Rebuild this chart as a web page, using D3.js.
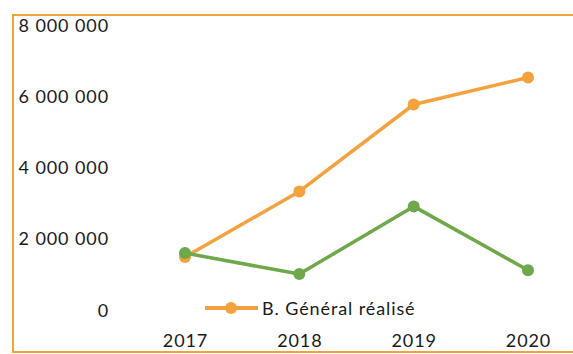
<!DOCTYPE html>
<html><head><meta charset="utf-8">
<script src="https://cdn.jsdelivr.net/npm/d3@7"></script>
<style>body{margin:0;background:#fff}svg{display:block}</style>
</head><body>
<svg id="c" width="573" height="354"></svg>
<script>
const years = ["2017","2018","2019","2020"];
const realise = [1460000, 3300000, 5740000, 6500000];
const autre = [1570000, 980000, 2880000, 1090000];
const yTicks = [0, 2000000, 4000000, 6000000, 8000000];
const yTickLabels = ["0","2 000 000","4 000 000","6 000 000","8 000 000"];
const legendLabel = "B. Général réalisé";

const svg = d3.select("#c");
const font = "Lato, 'Open Sans', sans-serif";
const orange = "#f4a23e", green = "#6ea84a";

svg.append("rect").attr("x",13).attr("y",15).attr("width",575).attr("height",337)
  .attr("fill","none").attr("stroke","#efa43a").attr("stroke-width",2);

const x = d3.scalePoint().domain(years).range([185, 528]);
const y = d3.scaleLinear().domain([0, 8000000]).range([309, 24]);

const ya = svg.append("g").attr("transform","translate(109,0)")
  .call(d3.axisLeft(y).tickValues(yTicks).tickFormat((d,i)=>yTickLabels[i]).tickSize(0).tickPadding(0));
ya.select(".domain").remove();
ya.selectAll("text").attr("font-family",font).attr("font-size",18).attr("fill","#1a1a1a")
  .attr("letter-spacing","0.9px").attr("dy","0.4em");

const xa = svg.append("g").attr("transform","translate(0,341)")
  .call(d3.axisBottom(x).tickSize(0).tickPadding(0));
xa.select(".domain").remove();
xa.selectAll("text").attr("font-family",font).attr("font-size",18).attr("fill","#1a1a1a")
  .attr("letter-spacing","0.9px").attr("dy","0.32em");

const line = d3.line().x((d,i)=>x(years[i])).y(d=>y(d));
function series(vals, col){
  svg.append("path").datum(vals).attr("d",line).attr("fill","none")
    .attr("stroke",col).attr("stroke-width",3.5).attr("stroke-linejoin","round");
  svg.selectAll(null).data(vals).enter().append("circle")
    .attr("cx",(d,i)=>x(years[i])).attr("cy",d=>y(d)).attr("r",6).attr("fill",col);
}
series(realise, orange);
series(autre, green);

const lg = svg.append("g");
lg.append("line").attr("x1",205).attr("x2",258).attr("y1",308).attr("y2",308)
  .attr("stroke",orange).attr("stroke-width",4);
lg.append("circle").attr("cx",231).attr("cy",308).attr("r",6).attr("fill",orange);
lg.append("text").attr("x",262).attr("y",308).attr("dy","0.38em")
  .attr("font-family",font).attr("font-size",18).attr("fill","#1a1a1a")
  .attr("letter-spacing","0.9px").text(legendLabel);
</script>
</body></html>
